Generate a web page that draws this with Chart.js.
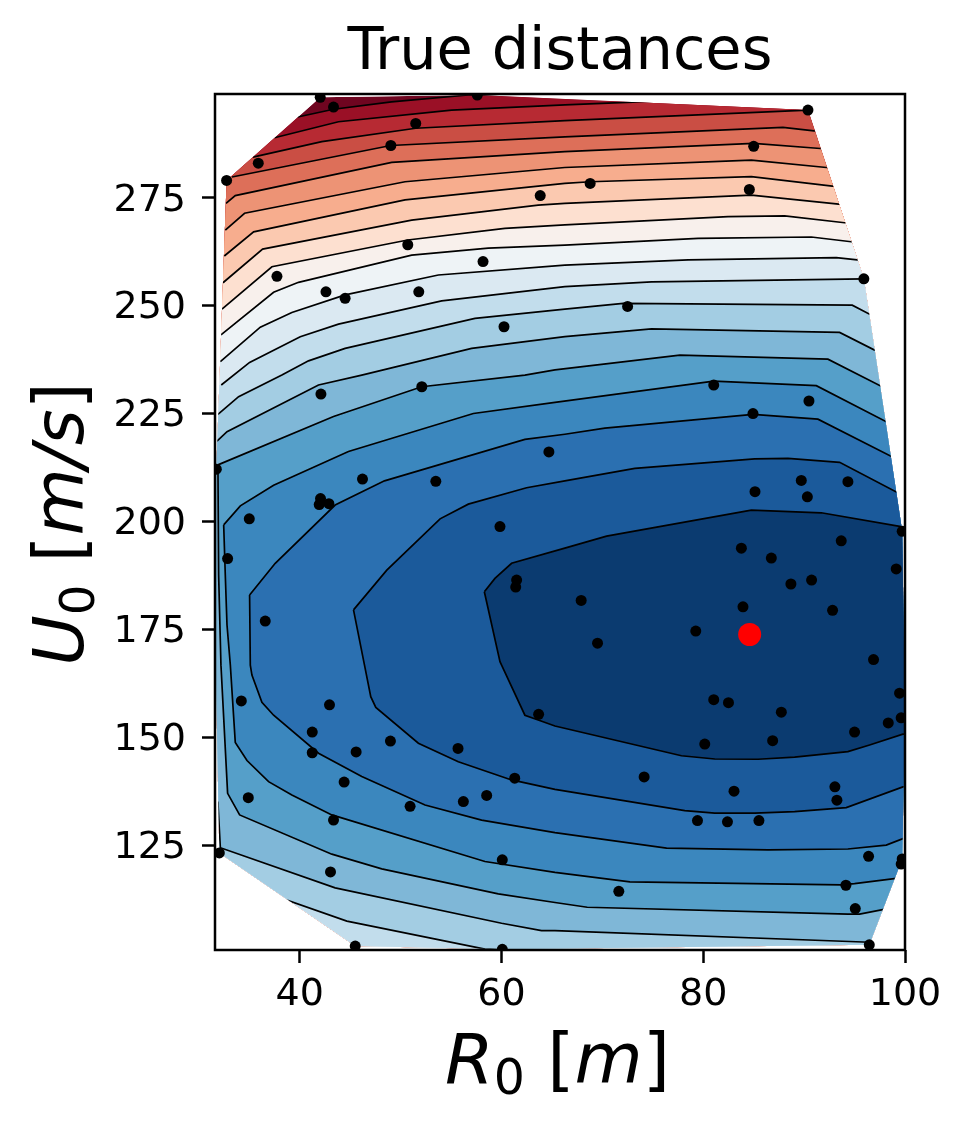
<!DOCTYPE html>
<html>
<head>
<meta charset="utf-8">
<style>
  html, body { margin: 0; padding: 0; background: #fff; }
  canvas { display: block; }
</style>
<script src="https://cdn.jsdelivr.net/npm/chart.js@4/dist/chart.umd.min.js"></script>
</head>
<body>
<canvas id="myChart" width="969" height="1131"></canvas>
<script>
var titleText = 'True distances';
var xTicks = [40, 60, 80, 100];
var yTicks = [125, 150, 175, 200, 225, 250, 275];
var xRange = [31.6, 100];
var yRange = [100.7, 299.03];

var trueValue = [[84.6, 173.8]];

var samples = [
  [42.03,298.26],[43.35,296],[57.6,298.8],[51.5,292.2],[49.03,287.1],[35.89,283],[32.75,279],[63.84,275.5],
  [50.71,264.1],[58.17,260.2],[37.74,256.8],[42.6,253.2],[44.5,251.7],[51.8,253.2],[60.25,245.1],[52.1,231.2],
  [90.38,295.3],[85,286.9],[68.79,278.3],[84.57,276.9],[95.92,256.2],[72.5,249.8],[42.1,229.5],[31.73,212.1],
  [46.22,209.8],[53.49,209.3],[64.7,216.1],[35,200.6],[42.06,205.3],[41.93,203.9],[42.89,204.1],[59.85,198.8],
  [32.85,191.4],[61.5,186.4],[61.41,184.8],[36.58,176.9],[81.04,231.6],[90.48,227.9],[84.93,225],[85.13,206.9],
  [89.72,209.5],[90.32,205.7],[94.34,209.2],[99.72,197.7],[93.68,195.5],[83.78,193.8],[86.75,191.5],[99.13,189],
  [88.69,185.5],[90.74,186.4],[67.9,181.7],[83.94,180.2],[92.82,179.4],[79.26,174.6],[69.52,171.8],[96.88,168],
  [34.21,158.4],[42.95,157.5],[41.24,151.2],[41.24,146.4],[45.59,146.6],[48.99,149.1],[55.69,147.4],[63.68,155.3],
  [61.31,140.5],[58.53,136.5],[56.22,135.1],[50.94,134],[44.4,139.6],[34.9,136],[43.35,130.8],[60.08,121.6],
  [43.05,118.8],[32.03,123.2],[45.5,101.6],[60.08,100.85],[81.04,158.7],[82.5,158],[87.74,155.8],[99.46,160.2],
  [95,151.2],[98.34,153.3],[99.62,154.5],[80.15,148.4],[86.88,149.2],[74.14,140.8],[83.05,137.5],[93.05,138.5],
  [93.25,135.4],[79.43,130.7],[82.4,130.4],[85.52,130.7],[96.39,122.4],[99.62,120.6],[99.72,121.8],[94.14,115.7],
  [71.63,114.3],[95.07,110.3],[96.46,101.9]
];

// convex hull of the samples, the contours only exist inside it
var hull = [
  [42.03,298.26],[57.6,298.8],[90.38,295.3],[95.92,256.2],[99.72,197.7],[100,155],[99.72,121.8],[96.46,101.9],
  [60.08,100.85],[45.5,101.6],[32.03,123.2],[31.65,170],[31.73,212.1],[32.75,279]
];

// closed contours, points past the hull get clipped away
var level0 = [[58.3,183.7],[59.35,186.8],[61,190.3],[66.28,193.8],[70.42,196.6],[84.77,202.6],[91.7,202],[99.62,198.8],[110,198],
  [110,150],[99.79,150.7],[96.49,148.2],[94.34,146.65],[89.06,145.4],[85.43,144.9],[81.14,144.95],[77.84,145.7],[65.3,152.6],[63.64,154],[62.32,155.1],[60.01,166.7],[59.85,167.5]];
var level1 = [[45.33,179.5],[48.63,188.7],[53.91,200.6],[56.71,204],[62.49,207.8],[66.28,209.4],[73.22,212.3],[85.1,214.5],[88.4,214.6],[93.52,213.7],[99.23,206.7],[110,206],
  [110,140],[99.79,138.5],[94.18,133.7],[89.06,132.75],[85.1,132.4],[81.14,132.4],[78.17,133],[65.3,137.9],[61,140.1],[55.72,144.3],[51.76,148.6],[47.54,156.9],[47.04,159.4],[46.42,166.7]];
var level2 = [[35.03,182.95],[37.57,190.3],[43.51,203.8],[48.4,209.4],[62.32,219],[66.28,220.2],[70.25,221.6],[84.94,224.8],[91.37,223.7],[98.7,215],[110,215],
  [110,125],[99.79,126.5],[98.14,125],[94.34,124.1],[86.42,123.9],[76.36,124.3],[65.3,127.9],[58.03,130.8],[52.42,134.3],[46.15,140.9],[41.86,146.3],[37.41,155.1],[36.25,158.1],[35.26,164.4],[35.1,166.7]];
var level3 = [[32.46,199.2],[34.11,203.6],[37.41,208.4],[44.83,216.2],[57.21,225],[65.3,227.6],[81.04,232.5],[91.21,231.45],[98.14,223.1],[110,223],
  [110,113],[99.13,117.3],[95,116.1],[93.68,115.8],[72.73,116.5],[65.3,118.7],[58.36,121.2],[43.18,132],[39.22,136.6],[36.91,139.7],[34.77,144.6],[33.61,148.8],[33.12,166.7],[32.79,176],[32.62,187.6]];
var level4 = [[31.89,213.1],[43.35,224.3],[52.09,231.2],[62.32,233.9],[65.3,235.1],[77.68,238.55],[92.36,237.6],[97.58,231.4],[110,231],
  [110,110],[97.91,110.1],[95.5,109],[94.34,109],[68.5,110.6],[65.3,111.7],[59.68,113.7],[48.13,119.5],[43.18,122.9],[34.04,132],[32.85,137],[32.19,166.7],[31.96,187.6]];
var level5 = [[31.8,218.6],[32.79,220.8],[41.86,231.6],[46.15,233.9],[57.04,240.1],[66.28,242.8],[74.87,244.6],[93.52,243.8],[96.98,239.7],[110,239.7],
  [110,102],[96.5,102.5],[65.3,105.2],[63.97,105.2],[60.01,106.9],[43.51,115.1],[32.13,124.4],[31.89,134.9],[25,134.9],[25,218.6]];
var level6 = [[31.89,224.8],[33.94,228.9],[38.23,233.9],[40.87,237.2],[44.5,240.1],[57.37,247.05],[66.28,249.2],[72.07,250.5],[94.77,250.1],[96.49,248],[110,248],
  [110,95],[58.36,100.9],[44.67,107.4],[38.82,112.2],[30,100],[25,100],[25,224.8]];

// these only bound the band above them
var line7 = [[32.22,231.6],[35.03,236.85],[40.05,242.8],[43.84,245.7],[54.07,251.1],[66.28,254.4],[74.87,255.5],[95.92,256.2]];
var line8 = [[32.13,237],[36.09,245],[39.22,248.4],[44.5,252.5],[53.74,257.1],[66.28,259.4],[78.5,260.6],[93.19,261.1],[95.27,260.6]];
var line9 = [[32.19,243.2],[37.41,253.1],[39.88,255.4],[51.1,261.7],[58.69,263.3],[66.28,264],[79.49,265.6],[90.71,265.9],[94.67,264.8]];
var line10 = [[32.29,249.2],[37.24,259],[50.71,265.2],[60.34,267.9],[66.28,268.7],[82.46,270.6],[88.07,270.8],[94.01,269.2]];
var line11 = [[32.39,255.3],[36.32,263.1],[51.1,269.8],[63.64,273.3],[66.28,273.7],[84.77,275.6],[93.42,273.5]];
var line12 = [[32.52,261.5],[35.43,267.1],[50.44,274.5],[66.28,278.3],[68.8,278.7],[84.77,279.9],[92.79,277.7]];
var line13 = [[32.62,267.5],[34.53,271.4],[50.44,278.7],[66.28,282],[84.77,283.7],[92.2,282]];
var line14 = [[32.69,273.7],[33.61,275.5],[49.12,283.2],[66.28,285.7],[85,287.6],[91.6,286.4]];
var line15 = [[33.28,279.8],[49.02,287.1],[66.28,289.1],[87.9,291.3],[90.98,290.5]];
var line16 = [[35.36,284.4],[42.19,288],[51.5,291.1],[66.28,292.85],[90.38,295.3]];
var line17 = [[37.5,288.9],[43.84,292.6],[55.06,295.3],[66.28,296.5],[74.28,297.25]];
var line18 = [[39.8,293.7],[43.35,295.5],[49.1,297.2],[56.7,298.8]];

var bandColors = ['#0b3b70','#1b5a9b','#2b70b1','#3b87be','#559fc9','#7fb7d7','#a3cde3','#c2ddec','#dbe9f2','#eef3f6',
  '#f8f0ec','#fde0d0','#fbc9b0','#f7ad8e','#ed9375','#dd6f59','#ca4e44','#b72a33','#9a1026'];
var topColor = '#6f0520';

var xLabelParts = [
  { text: 'R', italic: true }, { text: '0', sub: true }, { text: ' [' }, { text: 'm', italic: true }, { text: ']' }
];
var yLabelParts = [
  { text: 'U', italic: true }, { text: '0', sub: true }, { text: ' [' }, { text: 'm/s', italic: true }, { text: ']' }
];

function toPoints(list) {
  return list.map(function (p) { return { x: p[0], y: p[1] }; });
}

// back to the first point, else the last segment never gets stroked
function closeLoop(level) {
  return level.concat([level[0]]);
}

// everything below an open contour
function closeBelow(line) {
  return line.concat([[110, line[line.length - 1][1]], [110, 90], [25, 90], [25, line[0][1]]]);
}

var closedLevels = [level0, level1, level2, level3, level4, level5, level6];
var openLines = [line7, line8, line9, line10, line11, line12, line13, line14, line15, line16, line17, line18];
var levels = closedLevels.map(closeLoop).concat(openLines.map(closeBelow));

var datasets = [
  { data: toPoints(trueValue), pointRadius: 11.5, backgroundColor: '#ff0000', borderWidth: 0, showLine: false, clip: 0 },
  { data: toPoints(samples), pointRadius: 5.5, backgroundColor: '#000', borderWidth: 0, showLine: false, clip: 0 }
];
levels.forEach(function (level, i) {
  datasets.push({
    data: toPoints(level),
    showLine: true,
    fill: 'shape',
    pointRadius: 0,
    tension: 0,
    borderColor: '#000',
    borderWidth: 1.7,
    backgroundColor: bandColors[i],
    clip: 0
  });
});
datasets.push({
  data: toPoints(hull),
  showLine: true,
  fill: 'shape',
  pointRadius: 0,
  borderWidth: 0,
  borderColor: topColor,
  backgroundColor: topColor,
  clip: 0
});

function drawMath(ctx, parts, size) {
  var widths = parts.map(function (p) {
    ctx.font = (p.italic ? 'italic ' : '') + (p.sub ? size * 0.7 : size) + 'px "DejaVu Sans"';
    return ctx.measureText(p.text).width;
  });
  var total = widths.reduce(function (a, b) { return a + b; }, 0);
  var x = -total / 2;
  parts.forEach(function (p, i) {
    ctx.font = (p.italic ? 'italic ' : '') + (p.sub ? size * 0.7 : size) + 'px "DejaVu Sans"';
    ctx.fillText(p.text, x, p.sub ? size * 0.155 : 0);
    x += widths[i];
  });
}

var hullClip = {
  id: 'hullClip',
  beforeDatasetsDraw: function (chart) {
    var ctx = chart.ctx;
    ctx.save();
    ctx.beginPath();
    hull.forEach(function (p, i) {
      var px = chart.scales.x.getPixelForValue(p[0]);
      var py = chart.scales.y.getPixelForValue(p[1]);
      if (i === 0) ctx.moveTo(px, py); else ctx.lineTo(px, py);
    });
    ctx.closePath();
    ctx.clip();
  },
  // the sample dots sit on the hull and must not be cut by it
  beforeDatasetDraw: function (chart, args) {
    if (args.index === 1) chart.ctx.restore();
  }
};

var frameAndLabels = {
  id: 'frameAndLabels',
  afterDraw: function (chart) {
    var ctx = chart.ctx;
    var a = chart.chartArea;
    ctx.save();
    ctx.strokeStyle = '#000';
    ctx.lineWidth = 2.5;
    ctx.strokeRect(a.left, a.top, a.right - a.left, a.bottom - a.top);
    ctx.fillStyle = '#000';
    ctx.textBaseline = 'alphabetic';
    ctx.textAlign = 'left';
    ctx.save();
    ctx.translate(557.5, 1083);
    drawMath(ctx, xLabelParts, 70);
    ctx.restore();
    ctx.save();
    ctx.translate(83, 524);
    ctx.rotate(-Math.PI / 2);
    drawMath(ctx, yLabelParts, 69);
    ctx.restore();
    ctx.restore();
  }
};

var ctx = document.getElementById('myChart').getContext('2d');
var chart = new Chart(ctx, {
  type: 'scatter',
  data: { datasets: datasets },
  plugins: [hullClip, frameAndLabels],
  options: {
    responsive: false,
    animation: false,
    layout: { padding: { left: 0, right: 64, top: 0, bottom: 0 } },
    plugins: {
      legend: { display: false },
      tooltip: { enabled: false },
      title: {
        display: true,
        text: titleText,
        fullSize: false,
        color: '#000',
        font: { family: 'DejaVu Sans', size: 59, weight: 'normal', lineHeight: 1 },
        padding: { top: 24, bottom: 11 }
      }
    },
    scales: {
      x: {
        type: 'linear',
        min: xRange[0],
        max: xRange[1],
        border: { display: false },
        grid: { drawOnChartArea: false, drawTicks: true, tickLength: 13, tickWidth: 2.5, tickColor: '#000' },
        afterBuildTicks: function (scale) {
          scale.ticks = xTicks.map(function (v) { return { value: v }; });
        },
        afterFit: function (scale) { scale.height = 181; },
        ticks: {
          color: '#000',
          font: { family: 'DejaVu Sans', size: 38 },
          padding: 9,
          maxRotation: 0,
          autoSkip: false
        }
      },
      y: {
        type: 'linear',
        min: yRange[0],
        max: yRange[1],
        border: { display: false },
        grid: { drawOnChartArea: false, drawTicks: true, tickLength: 13, tickWidth: 2.5, tickColor: '#000' },
        afterBuildTicks: function (scale) {
          scale.ticks = yTicks.map(function (v) { return { value: v }; });
        },
        afterFit: function (scale) { scale.width = 215; },
        ticks: {
          color: '#000',
          font: { family: 'DejaVu Sans', size: 38 },
          padding: 16,
          labelOffset: 3,
          autoSkip: false
        }
      }
    }
  }
});
</script>
</body>
</html>
